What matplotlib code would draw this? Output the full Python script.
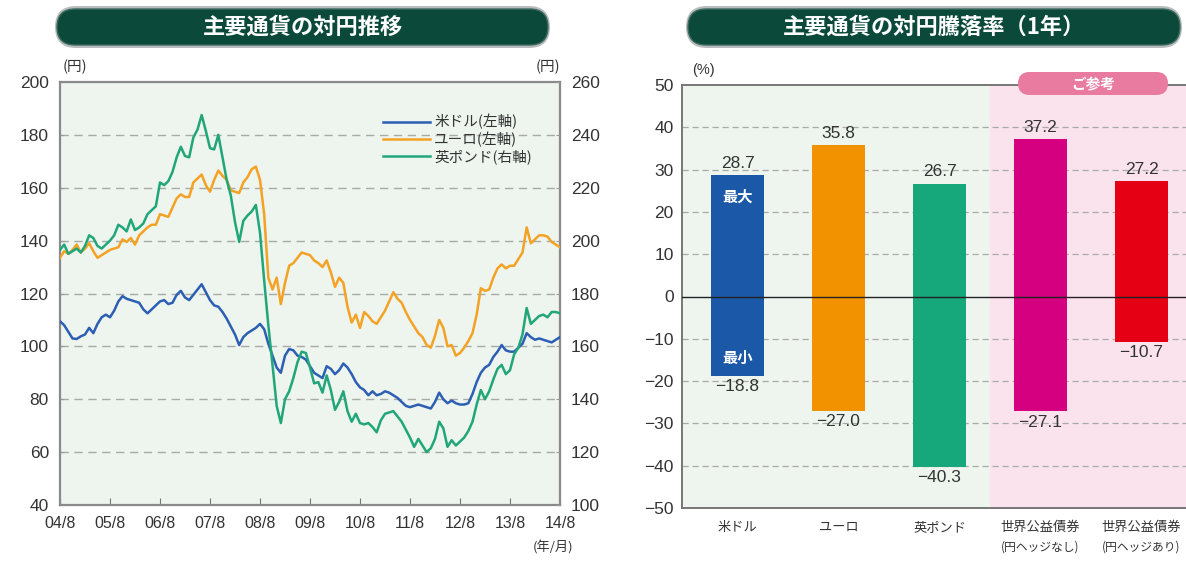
import matplotlib
matplotlib.use("Agg")
import matplotlib.pyplot as plt
from matplotlib.patches import FancyBboxPatch, Rectangle
import numpy as np

plt.rcParams['font.family'] = ['Liberation Sans', 'Noto Sans CJK JP', 'DejaVu Sans']

# ---------------- data ----------------
year_labels = ["04/8", "05/8", "06/8", "07/8", "08/8", "09/8", "10/8", "11/8", "12/8", "13/8", "14/8"]

usd = [109.5, 108.0, 105.5, 103.0, 102.8, 103.8, 104.5, 107.0, 105.0, 108.5,
       111.0, 112.0, 111.0, 113.5, 117.0, 119.0, 118.0, 117.5, 117.0, 116.5,
       114.0, 112.5, 114.0, 115.5, 117.0, 117.5, 116.0, 116.5, 119.5, 121.0,
       118.5, 117.5, 119.5, 121.5, 123.5, 120.5, 117.5, 115.5, 115.0, 113.0,
       110.5, 107.5, 104.5, 100.5, 103.5, 105.0, 106.0, 107.0, 108.5, 106.5,
       101.0, 96.5, 92.0, 90.0, 96.5, 99.0, 98.5, 96.5, 96.0, 95.0,
       92.5, 90.0, 89.0, 88.0, 92.5, 91.5, 89.5, 91.0, 93.5, 92.0,
       89.5, 86.5, 84.5, 83.5, 81.5, 83.0, 81.5, 82.0, 83.0, 82.5,
       81.5, 80.5, 79.0, 77.5, 77.0, 77.5, 78.0, 77.5, 77.0, 76.5,
       79.0, 82.5, 80.0, 78.5, 79.5, 78.5, 78.0, 78.0, 78.5, 82.0,
       86.5, 90.0, 92.0, 93.0, 96.0, 98.0, 100.5, 98.5, 98.0, 98.0,
       99.5, 101.0, 105.0, 103.5, 102.5, 103.0, 102.5, 102.0, 101.5, 102.5,
       103.5]

eur = [133.5, 136.0, 135.0, 136.5, 138.5, 135.5, 137.0, 139.0, 136.0, 133.5,
       134.5, 135.5, 136.5, 137.0, 137.5, 140.5, 139.5, 141.0, 138.5, 142.0,
       143.5, 145.0, 146.0, 146.0, 150.0, 149.5, 149.0, 152.5, 156.0, 157.5,
       156.5, 156.5, 162.0, 163.5, 165.0, 161.0, 158.5, 163.0, 166.5, 164.5,
       163.0, 159.0, 158.5, 158.0, 162.0, 164.0, 167.0, 168.0, 163.0, 150.0,
       126.0, 121.5, 126.0, 116.0, 124.0, 130.5, 131.5, 133.5, 135.5, 135.0,
       134.5, 132.5, 131.5, 130.0, 132.5, 128.0, 122.5, 126.0, 124.0, 115.0,
       109.0, 112.0, 107.0, 113.0, 111.5, 109.5, 108.5, 111.0, 113.5, 117.0,
       120.5, 118.0, 116.5, 113.0, 110.0, 107.5, 105.0, 103.5, 100.5, 99.5,
       104.0, 110.0, 107.0, 100.0, 100.5, 96.5, 97.5, 99.5, 102.0, 105.0,
       112.0, 122.0, 121.0, 121.5, 126.0, 129.5, 131.0, 129.5, 130.5, 130.5,
       133.0, 135.5, 145.0, 139.0, 140.5, 142.0, 142.0, 141.5, 139.5, 138.5,
       137.5]

gbp = [196.5, 198.5, 195.0, 196.0, 197.0, 195.5, 198.0, 202.0, 201.0, 198.0,
       197.0, 198.5, 200.0, 202.0, 206.0, 205.0, 203.5, 208.0, 204.0, 205.0,
       206.5, 210.0, 211.5, 213.0, 222.0, 221.0, 222.5, 226.0, 231.5, 235.5,
       232.0, 231.5, 239.0, 242.0, 247.5, 241.5, 235.0, 234.5, 240.0, 231.5,
       223.0, 217.0, 207.0, 199.5, 207.5, 209.5, 211.0, 213.5, 203.0, 185.0,
       168.0, 153.0, 137.5, 131.0, 140.0, 143.0, 148.0, 154.0, 158.0, 157.5,
       152.0, 146.0, 146.5, 142.5, 149.0, 143.5, 136.0, 139.0, 143.0, 135.5,
       131.5, 134.5, 131.0, 130.5, 131.0, 129.5, 127.5, 132.0, 134.5, 135.0,
       135.5, 133.5, 131.5, 128.5, 125.5, 122.0, 125.0, 122.5, 120.0, 121.5,
       125.0, 131.5, 129.0, 122.0, 124.5, 122.5, 124.0, 125.5, 128.0, 131.5,
       138.0, 143.5, 140.0, 143.0, 147.5, 151.5, 153.0, 149.5, 151.0, 157.0,
       159.5, 164.5, 174.5, 168.5, 170.0, 171.5, 172.0, 171.0, 173.0, 173.0,
       172.5]

bar_cats = ["米ドル", "ユーロ", "英ポンド", "世界公益債券\n(円ヘッジなし)", "世界公益債券\n(円ヘッジあり)"]
bar_max = [28.7, 35.8, 26.7, 37.2, 27.2]
bar_min = [-18.8, -27.0, -40.3, -27.1, -10.7]
bar_colors = ["#1b58a8", "#f39200", "#16a77b", "#d5007f", "#e50014"]

CJK = ['Noto Sans CJK JP', 'DejaVu Sans']

# ---------------- figure ----------------
W, H = 1186, 561
fig = plt.figure(figsize=(W / 100, H / 100), dpi=100)
fig.patch.set_facecolor("white")

def fx(px):
    return px / W

def fy(py):
    return 1 - py / H

# title banners (inches coordinates)
for (x0, x1, txt) in [(57, 548, "主要通貨の対円推移"), (688, 1180, "主要通貨の対円騰落率（1年）")]:
    shadow = FancyBboxPatch((x0 / 100 - 0.02, (H - 48) / 100), (x1 - x0) / 100 + 0.04, 0.42,
                            boxstyle="round,pad=0,rounding_size=0.21",
                            transform=fig.dpi_scale_trans, facecolor="#b8bcbc",
                            edgecolor="none", zorder=1)
    fig.add_artist(shadow)
    box = FancyBboxPatch((x0 / 100, (H - 45) / 100), (x1 - x0) / 100, 0.36,
                         boxstyle="round,pad=0,rounding_size=0.18",
                         transform=fig.dpi_scale_trans, facecolor="#0b4a3b",
                         edgecolor="#3d6b5f", linewidth=1.0, zorder=2)
    fig.add_artist(box)
    fig.text(fx((x0 + x1) / 2), fy(27), txt, color="white", fontsize=16,
             fontweight="bold", ha="center", va="center", zorder=3, family=CJK)

# ---------------- left chart ----------------
ax = fig.add_axes([fx(60), fy(505), fx(560) - fx(60), fy(82) - fy(505)])
ax.set_facecolor("#edf5ee")
months = np.arange(len(usd))
ax.plot(months, usd, color="#2c5fb3", lw=1.8, label="米ドル(左軸)", zorder=3)
ax.plot(months, eur, color="#f4a224", lw=1.8, label="ユーロ(左軸)", zorder=3)
ax.plot([], [], color="#21a67a", lw=1.8, label="英ポンド(右軸)")
ax.set_xlim(0, 120)
ax.set_ylim(40, 200)
ax.set_yticks(np.arange(40, 201, 20))
ax.set_xticks(np.arange(0, 121, 12))
ax.set_xticklabels(year_labels)
ax.tick_params(axis="x", direction="in", length=5, color="#777", labelsize=11.5, pad=8, labelcolor="#333")
ax.tick_params(axis="y", direction="in", length=3, color="#999", labelsize=12.5, pad=8, labelcolor="#333")
for v in range(60, 200, 20):
    ax.axhline(v, color="#a8aaa8", lw=1.0, ls=(0, (6, 4)), zorder=1)
for s in ax.spines.values():
    s.set_color("#8a8a8a")
    s.set_linewidth(1.6)

ax2 = ax.twinx()
ax2.plot(months, gbp, color="#21a67a", lw=1.8, zorder=3)
ax2.set_ylim(100, 260)
ax2.set_yticks(np.arange(100, 261, 20))
ax2.tick_params(axis="y", direction="in", length=3, color="#999", labelsize=12.5, pad=8, labelcolor="#333")
for s in ax2.spines.values():
    s.set_visible(False)

leg = ax.legend(loc="upper right", bbox_to_anchor=(0.97, 0.955), frameon=False,
                handlelength=3.2, handletextpad=0.3, labelspacing=0.15,
                prop={'family': CJK, 'size': 10.5})
for t in leg.get_texts():
    t.set_color("#333")

fig.text(fx(75), fy(67), "(円)", fontsize=10.5, ha="center", va="center", color="#333", family=CJK)
fig.text(fx(548), fy(67), "(円)", fontsize=10.5, ha="center", va="center", color="#333", family=CJK)
fig.text(fx(553), fy(548), "(年/月)", fontsize=9.5, ha="center", va="center", color="#333", family=CJK)

# ---------------- right chart ----------------
bx = fig.add_axes([fx(682), fy(508), 1 - fx(682), fy(85) - fy(508)])
bx.set_facecolor("#edf5ee")
xpos = np.arange(len(bar_cats))
bx.set_xlim(-0.55, 4.44)
bx.set_ylim(-50, 50)
bx.add_patch(Rectangle((2.5, -50), 3, 100, facecolor="#fbe3ee", edgecolor="none", zorder=0))
for v in range(-40, 50, 10):
    if v != 0:
        bx.axhline(v, color="#aaaaaa", lw=0.9, ls=(0, (5, 3)), zorder=1)
bx.axhline(0, color="#222", lw=1.0, zorder=3)
heights = [mx - mn for mx, mn in zip(bar_max, bar_min)]
bx.bar(xpos, heights, bottom=bar_min, width=0.52, color=bar_colors, zorder=2)
for x, mx, mn in zip(xpos, bar_max, bar_min):
    bx.text(x, mx + 1.0, f"{mx:.1f}", ha="center", va="bottom", fontsize=12.5, color="#333")
    bx.text(x, mn - 0.8, f"\u2212{abs(mn):.1f}", ha="center", va="top", fontsize=12.5, color="#333")
bx.text(0, 23.5, "最大", ha="center", va="center", fontsize=11, color="white", fontweight="bold",
        family=CJK, zorder=4)
bx.text(0, -14.5, "最小", ha="center", va="center", fontsize=11, color="white", fontweight="bold",
        family=CJK, zorder=4)

# "ご参考" badge
badge = FancyBboxPatch((10.18, (H - 95) / 100), 1.50, 0.23,
                       boxstyle="round,pad=0,rounding_size=0.115",
                       transform=fig.dpi_scale_trans, facecolor="#e97ba1",
                       edgecolor="none", zorder=6)
fig.add_artist(badge)
fig.text(fx(1093), fy(83.5), "ご参考", ha="center", va="center", fontsize=10.5, color="white",
         fontweight="bold", family=CJK, zorder=7)

bx.set_yticks(np.arange(-50, 51, 10))
bx.set_yticklabels([("\u2212" + str(abs(v))) if v < 0 else str(v) for v in range(-50, 51, 10)])
bx.tick_params(axis="y", length=0, labelsize=12.5, pad=6, labelcolor="#333")
bx.set_xticks(xpos)
bx.set_xticklabels([])
bx.tick_params(axis="x", length=0)
for x, c in zip(xpos, bar_cats):
    lines = c.split("\n")
    bx.text(x, -54.5, lines[0], ha="center", va="center", fontsize=9.5, color="#333",
            family=CJK, clip_on=False)
    if len(lines) > 1:
        bx.text(x, -59.2, lines[1], ha="center", va="center", fontsize=8.5, color="#333",
                family=CJK, clip_on=False)
for k, s in bx.spines.items():
    s.set_color("#777")
    s.set_linewidth(1.4)
bx.spines["right"].set_visible(False)
fig.text(fx(703), fy(70), "(%)", fontsize=10.5, ha="center", va="center", color="#333")

fig.savefig("out.png", dpi=100, facecolor="white")
